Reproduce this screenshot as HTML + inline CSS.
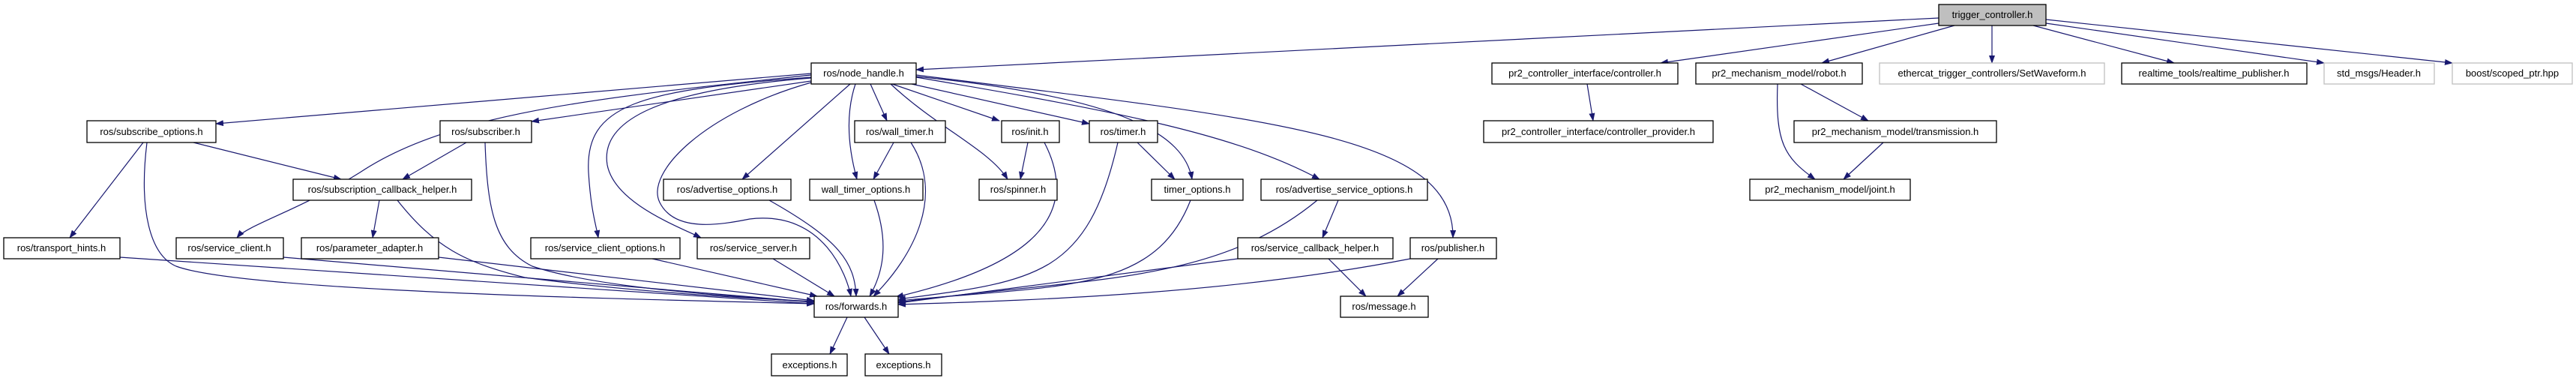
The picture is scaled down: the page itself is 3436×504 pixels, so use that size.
<!DOCTYPE html>
<html><head><meta charset="utf-8"><style>
html,body{margin:0;padding:0;background:#fff;}
svg{display:block;}
text{font-family:"Liberation Sans",sans-serif;font-size:13px;fill:#000;}
.n rect{fill:#fff;stroke:#000;stroke-width:1.3;}
.g rect{fill:#fff;stroke:#bfbfbf;stroke-width:1.3;}
.e{fill:none;stroke:#191970;stroke-width:1.2;}
</style></head><body>
<svg width="3436" height="504" viewBox="0 0 3436 504" xmlns="http://www.w3.org/2000/svg">
<defs><marker id="a" markerWidth="11" markerHeight="8" refX="10" refY="4" orient="auto" markerUnits="userSpaceOnUse"><path d="M0,0 L11,4 L0,8 z" fill="#191970"/></marker></defs>
<g marker-end="url(#a)">
<path class="e" d="M2586,24 L1222,93"/>
<path class="e" d="M2586,31 L2215,84"/>
<path class="e" d="M2607,34 L2430,84"/>
<path class="e" d="M2657,34 L2657,84"/>
<path class="e" d="M2712,34 L2900,84"/>
<path class="e" d="M2729,31 L3100,84"/>
<path class="e" d="M2729,26 L3271,84"/>
<path class="e" d="M1082,98 L288,165"/>
<path class="e" d="M1082,108 L709,162"/>
<path class="e" d="M1082,100 C800,130 600,150 480,230 C400,280 330,300 316,317"/>
<path class="e" d="M1082,103 C850,120 780,140 785,230 C788,280 795,300 798,317"/>
<path class="e" d="M1082,104 C880,120 800,160 810,220 C820,270 900,300 935,317"/>
<path class="e" d="M1082,110 C940,150 860,230 880,270 C900,310 960,300 1000,292 C1100,280 1130,370 1135,395"/>
<path class="e" d="M1134,112 L990,239"/>
<path class="e" d="M1141,112 C1125,160 1135,210 1143,239"/>
<path class="e" d="M1161,112 L1183,161"/>
<path class="e" d="M1188,112 C1250,170 1320,200 1344,239"/>
<path class="e" d="M1190,112 L1333,161"/>
<path class="e" d="M1216,112 L1453,165"/>
<path class="e" d="M1222,102 C1500,130 1580,180 1590,239"/>
<path class="e" d="M1222,103 C1500,150 1650,180 1760,239"/>
<path class="e" d="M1222,100 C1700,160 1940,180 1938,317"/>
<path class="e" d="M191,190 L93,317"/>
<path class="e" d="M196,190 C185,280 200,340 235,355 C330,390 900,400 1086,405"/>
<path class="e" d="M258,190 L455,239"/>
<path class="e" d="M622,190 L537,239"/>
<path class="e" d="M647,190 C650,280 660,330 710,355 C800,385 980,395 1086,403"/>
<path class="e" d="M506,267 L497,317"/>
<path class="e" d="M530,267 C580,330 620,350 700,370 C850,390 1000,398 1086,402"/>
<path class="e" d="M160,343 L1086,405"/>
<path class="e" d="M378,343 L1086,403"/>
<path class="e" d="M585,343 L1086,401"/>
<path class="e" d="M870,345 L1090,395"/>
<path class="e" d="M1031,345 L1113,395"/>
<path class="e" d="M1026,267 C1120,320 1140,350 1142,395"/>
<path class="e" d="M1166,267 C1185,320 1180,360 1160,395"/>
<path class="e" d="M1215,190 C1260,260 1220,340 1165,395"/>
<path class="e" d="M1393,190 C1450,300 1350,360 1195,396"/>
<path class="e" d="M1491,190 C1450,370 1380,375 1198,399"/>
<path class="e" d="M1588,267 C1540,390 1420,380 1198,401"/>
<path class="e" d="M1757,267 C1620,380 1450,370 1198,403"/>
<path class="e" d="M1651,345 L1198,404"/>
<path class="e" d="M1881,345 C1650,390 1400,400 1198,406"/>
<path class="e" d="M1130,423 L1107,472"/>
<path class="e" d="M1153,423 L1186,472"/>
<path class="e" d="M1192,190 L1165,239"/>
<path class="e" d="M1371,190 L1361,239"/>
<path class="e" d="M1517,190 L1567,239"/>
<path class="e" d="M1785,267 L1764,317"/>
<path class="e" d="M1772,345 L1822,395"/>
<path class="e" d="M1918,345 L1864,395"/>
<path class="e" d="M2117,112 L2125,161"/>
<path class="e" d="M2402,112 L2492,161"/>
<path class="e" d="M2371,112 C2368,190 2380,210 2421,239"/>
<path class="e" d="M2512,190 L2459,239"/>
</g>
<g>
<rect x="2586" y="6" width="143" height="28" fill="#bfbfbf" stroke="#000" stroke-width="1.3"/>
<text x="2657.5" y="24" text-anchor="middle">trigger_controller.h</text>
</g>
<g class="n">
<rect x="1082" y="84" width="140" height="28"/><text x="1152" y="102" text-anchor="middle">ros/node_handle.h</text>
<rect x="1990" y="84" width="248" height="28"/><text x="2114" y="102" text-anchor="middle">pr2_controller_interface/controller.h</text>
<rect x="2262" y="84" width="222" height="28"/><text x="2373" y="102" text-anchor="middle">pr2_mechanism_model/robot.h</text>
<rect x="2830" y="84" width="247" height="28"/><text x="2953" y="102" text-anchor="middle">realtime_tools/realtime_publisher.h</text>
<rect x="116" y="161" width="172" height="29"/><text x="202" y="180" text-anchor="middle">ros/subscribe_options.h</text>
<rect x="587" y="161" width="122" height="29"/><text x="648" y="180" text-anchor="middle">ros/subscriber.h</text>
<rect x="1140" y="161" width="121" height="29"/><text x="1200" y="180" text-anchor="middle">ros/wall_timer.h</text>
<rect x="1336" y="161" width="77" height="29"/><text x="1374" y="180" text-anchor="middle">ros/init.h</text>
<rect x="1453" y="161" width="91" height="29"/><text x="1498" y="180" text-anchor="middle">ros/timer.h</text>
<rect x="1979" y="161" width="306" height="29"/><text x="2132" y="180" text-anchor="middle">pr2_controller_interface/controller_provider.h</text>
<rect x="2393" y="161" width="270" height="29"/><text x="2528" y="180" text-anchor="middle">pr2_mechanism_model/transmission.h</text>
<rect x="391" y="239" width="238" height="28"/><text x="510" y="257" text-anchor="middle">ros/subscription_callback_helper.h</text>
<rect x="885" y="239" width="170" height="28"/><text x="970" y="257" text-anchor="middle">ros/advertise_options.h</text>
<rect x="1080" y="239" width="151" height="28"/><text x="1155" y="257" text-anchor="middle">wall_timer_options.h</text>
<rect x="1306" y="239" width="104" height="28"/><text x="1358" y="257" text-anchor="middle">ros/spinner.h</text>
<rect x="1536" y="239" width="122" height="28"/><text x="1597" y="257" text-anchor="middle">timer_options.h</text>
<rect x="1682" y="239" width="222" height="28"/><text x="1793" y="257" text-anchor="middle">ros/advertise_service_options.h</text>
<rect x="2334" y="239" width="214" height="28"/><text x="2441" y="257" text-anchor="middle">pr2_mechanism_model/joint.h</text>
<rect x="5" y="317" width="155" height="28"/><text x="82" y="335" text-anchor="middle">ros/transport_hints.h</text>
<rect x="235" y="317" width="143" height="28"/><text x="306" y="335" text-anchor="middle">ros/service_client.h</text>
<rect x="402" y="317" width="183" height="28"/><text x="493" y="335" text-anchor="middle">ros/parameter_adapter.h</text>
<rect x="708" y="317" width="199" height="28"/><text x="807" y="335" text-anchor="middle">ros/service_client_options.h</text>
<rect x="930" y="317" width="150" height="28"/><text x="1005" y="335" text-anchor="middle">ros/service_server.h</text>
<rect x="1651" y="317" width="207" height="28"/><text x="1754" y="335" text-anchor="middle">ros/service_callback_helper.h</text>
<rect x="1881" y="317" width="115" height="28"/><text x="1938" y="335" text-anchor="middle">ros/publisher.h</text>
<rect x="1086" y="395" width="112" height="28"/><text x="1142" y="413" text-anchor="middle">ros/forwards.h</text>
<rect x="1788" y="395" width="117" height="28"/><text x="1846" y="413" text-anchor="middle">ros/message.h</text>
<rect x="1029" y="472" width="101" height="29"/><text x="1080" y="491" text-anchor="middle">exceptions.h</text>
<rect x="1154" y="472" width="102" height="29"/><text x="1205" y="491" text-anchor="middle">exceptions.h</text>
</g>
<g class="g">
<rect x="2507" y="84" width="300" height="28"/><text x="2657" y="102" text-anchor="middle">ethercat_trigger_controllers/SetWaveform.h</text>
<rect x="3100" y="84" width="147" height="28"/><text x="3173" y="102" text-anchor="middle">std_msgs/Header.h</text>
<rect x="3271" y="84" width="160" height="28"/><text x="3351" y="102" text-anchor="middle">boost/scoped_ptr.hpp</text>
</g>
</svg>
</body></html>
